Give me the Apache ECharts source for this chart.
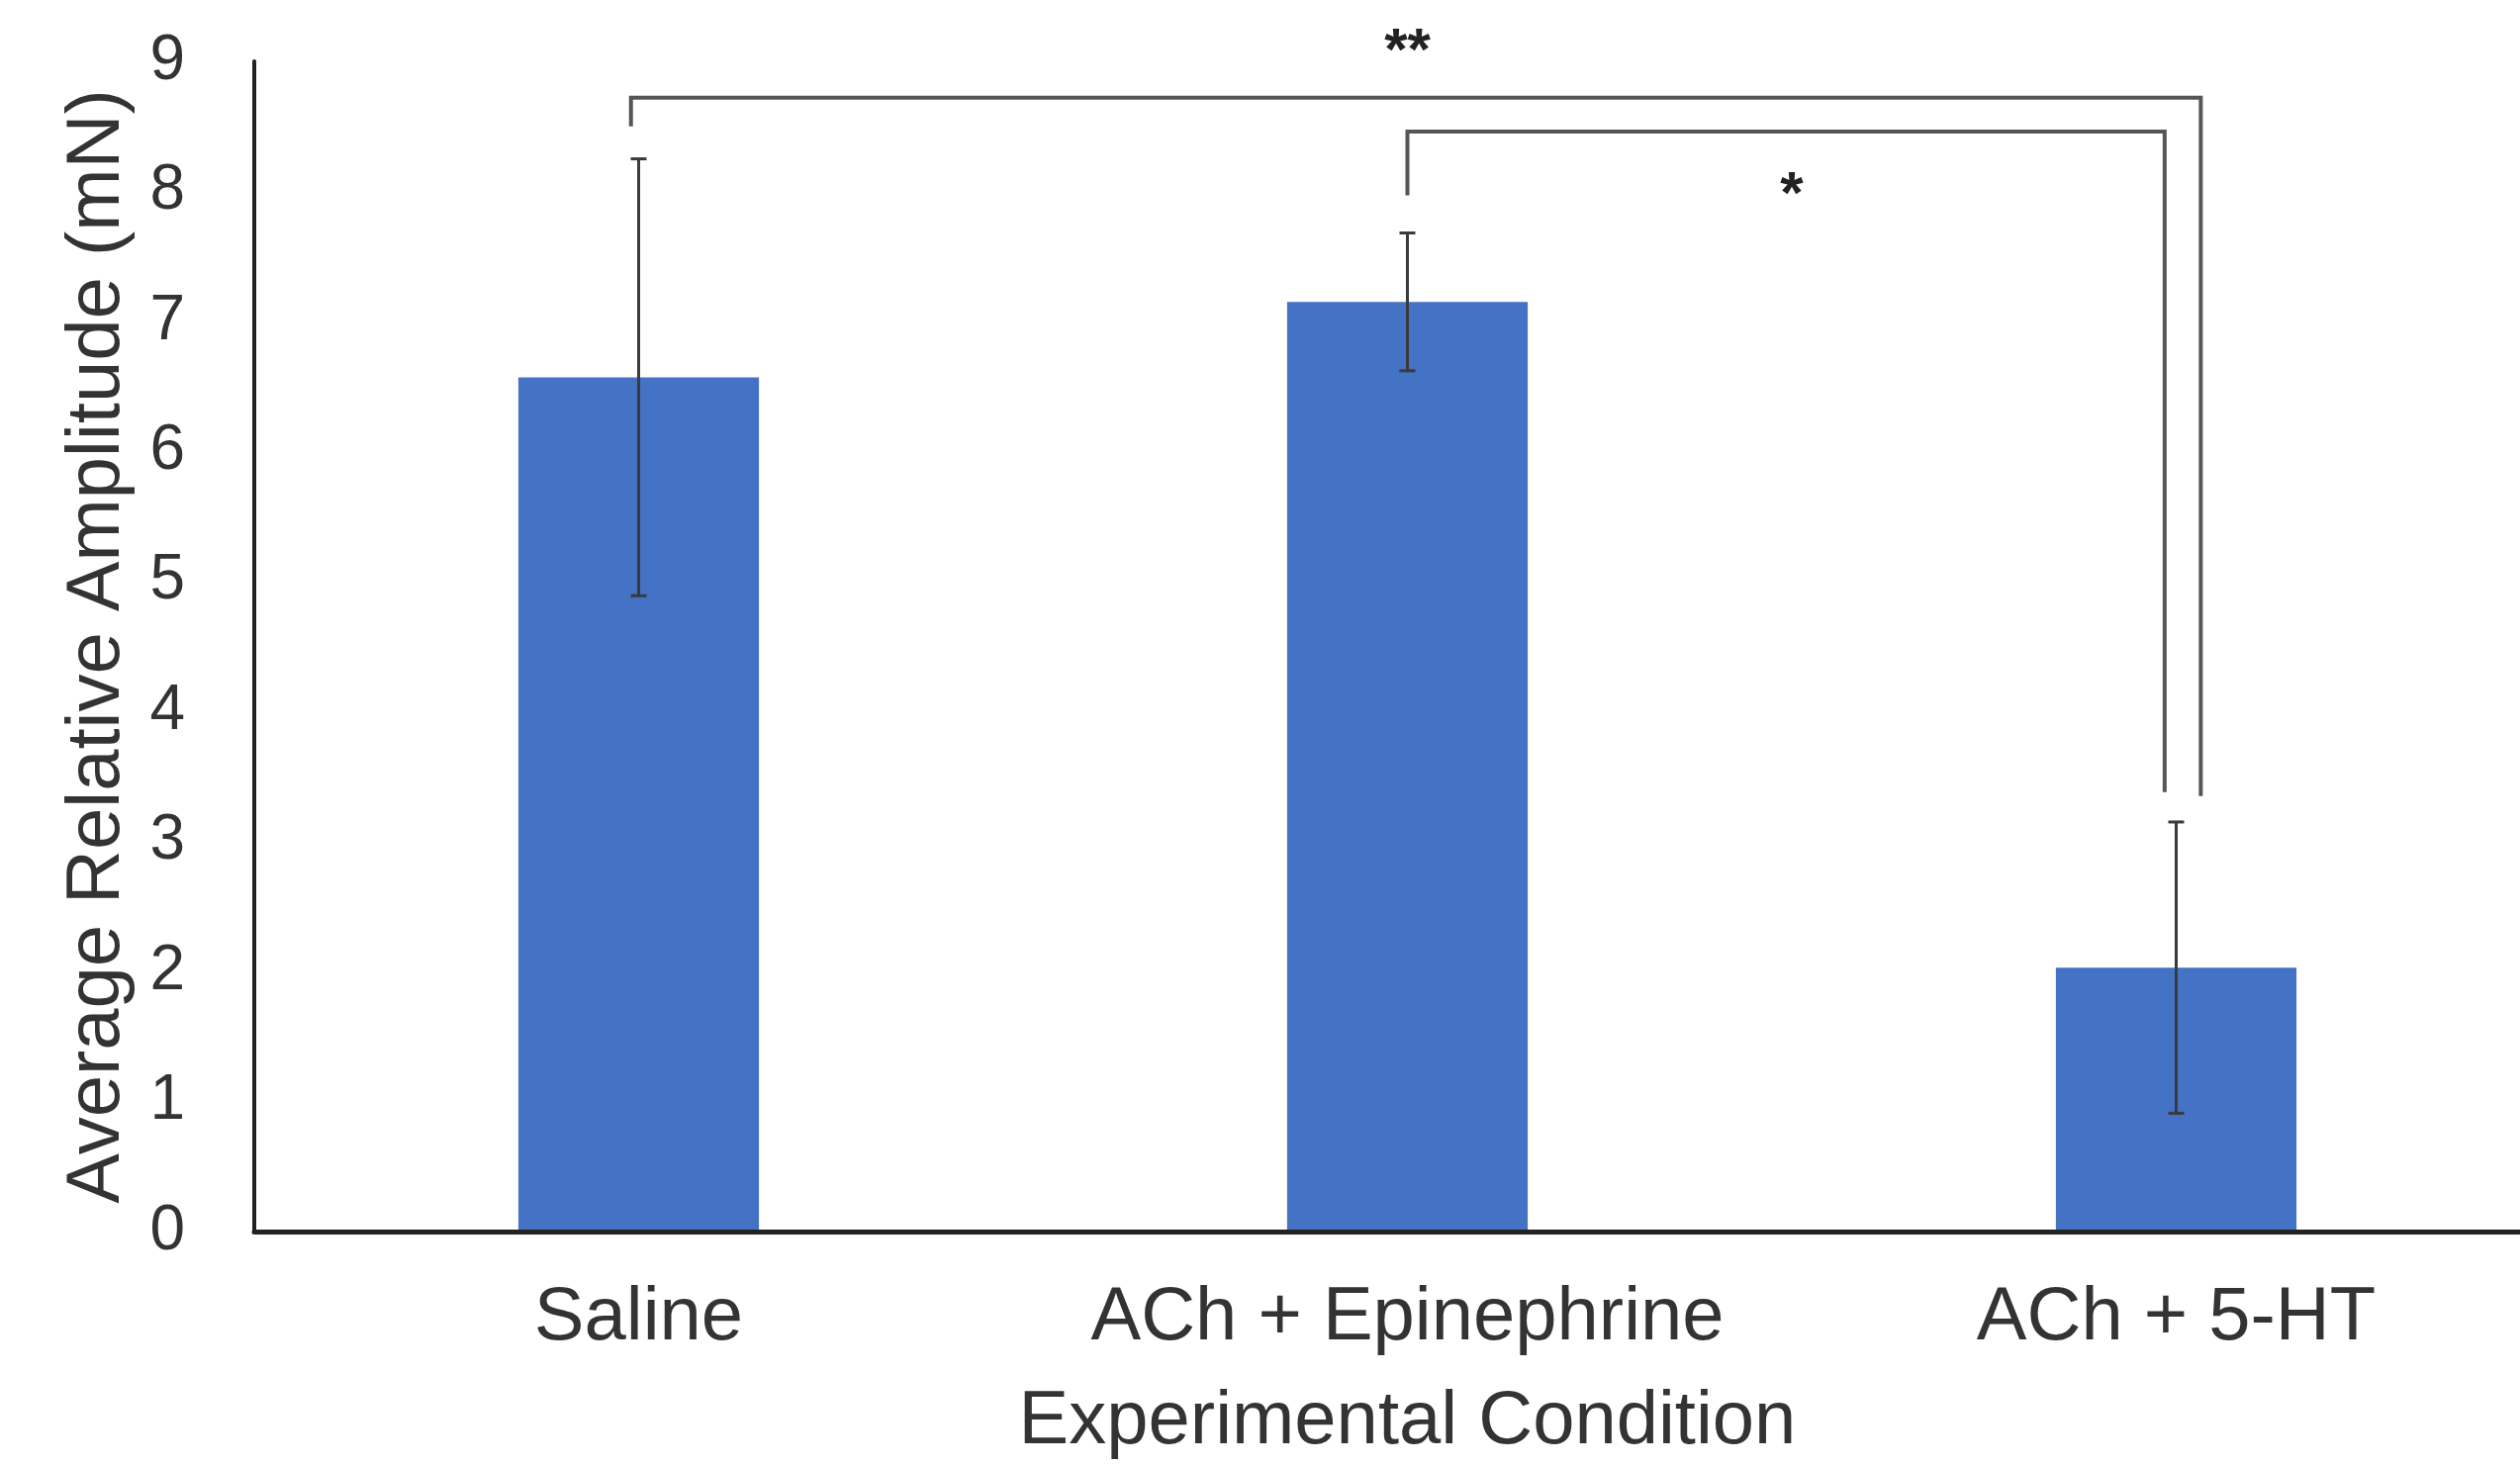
<!DOCTYPE html>
<html><head><meta charset="utf-8">
<script src="https://cdn.jsdelivr.net/npm/echarts@6/dist/echarts.min.js"></script>
<style>html,body{margin:0;padding:0;background:#fff}#c{width:2547px;height:1482px}</style>
</head><body><div id="c"></div>
<script>
// ---- data ----
const categories = ['Saline', 'ACh + Epinephrine', 'ACh + 5-HT'];
const means = [6.57, 7.15, 2.03];
const errors = [1.68, 0.53, 1.12];
const yMin = 0, yMax = 9, yStep = 1;
// significance brackets: [x start, x end, top y, left leg end y, right leg end y]
const bracketLong = [-0.01, 2.032, 8.72, 8.50, 3.35];
const bracketShort = [1.0, 1.985, 8.46, 7.97, 3.38];
// significance marks: [x, y]
const starPositions = [[1.0, 9.16], [1.5, 8.05]];
const starTexts = ['**', '*'];
const xTitle = 'Experimental Condition';
const yTitle = 'Average Relative Amplitude (mN)';

// ---- chart ----
const FONT = "'Liberation Sans', Arial, sans-serif";
const TXT = '#333333';
const errData = means.map((m, i) => [i, m - errors[i], m + errors[i]]);

const chart = echarts.init(document.getElementById('c'), null, {renderer: 'canvas'});
chart.setOption({
  backgroundColor: '#ffffff',
  animation: false,
  grid: {left: 257, top: 62, width: 2331, height: 1183, containLabel: false, outerBoundsMode: 'none'},
  xAxis: [{
    type: 'category', data: categories, z: 5,
    axisLine: {show: true, lineStyle: {color: '#222', width: 5}},
    axisTick: {show: false},
    axisLabel: {fontSize: 76, color: TXT, fontFamily: FONT, margin: 50, interval: 0},
    name: xTitle, nameLocation: 'middle', nameGap: 155,
    nameTextStyle: {fontSize: 76, color: TXT, fontFamily: FONT}
  }, {
    type: 'value', min: -0.5, max: 2.5, show: false
  }],
  yAxis: {
    type: 'value', min: yMin, max: yMax, interval: yStep,
    axisLine: {show: true, onZero: false, lineStyle: {color: '#222', width: 4}},
    axisTick: {show: false},
    splitLine: {show: false},
    axisLabel: {fontSize: 64, color: TXT, fontFamily: FONT, margin: 70},
    name: yTitle, nameLocation: 'middle', nameGap: 120,
    nameTextStyle: {fontSize: 76, color: TXT, fontFamily: FONT}
  },
  series: [{
    type: 'bar', data: means, barWidth: '31.3%',
    itemStyle: {color: '#4472C4'}
  }, {
    type: 'custom', xAxisIndex: 1, data: errData, z: 4,
    renderItem(params, api) {
      const x = api.value(0);
      const pLo = api.coord([x, api.value(1)]);
      const pHi = api.coord([x, api.value(2)]);
      const w = 8, st = {stroke: '#3a3a3a', lineWidth: 3};
      return {type: 'group', children: [
        {type: 'line', shape: {x1: pHi[0], y1: pHi[1], x2: pLo[0], y2: pLo[1]}, style: st},
        {type: 'line', shape: {x1: pHi[0] - w, y1: pHi[1], x2: pHi[0] + w, y2: pHi[1]}, style: st},
        {type: 'line', shape: {x1: pLo[0] - w, y1: pLo[1], x2: pLo[0] + w, y2: pLo[1]}, style: st}
      ]};
    }
  }, {
    type: 'custom', xAxisIndex: 1, data: [bracketLong, bracketShort], z: 4,
    renderItem(params, api) {
      const x1 = api.value(0), x2 = api.value(1), top = api.value(2);
      const pts = [api.coord([x1, api.value(3)]), api.coord([x1, top]),
                   api.coord([x2, top]), api.coord([x2, api.value(4)])];
      return {type: 'polyline', shape: {points: pts},
              style: {stroke: '#555', lineWidth: 4, fill: null}};
    }
  }, {
    type: 'custom', xAxisIndex: 1, data: starPositions, z: 4,
    renderItem(params, api) {
      const p = api.coord([api.value(0), api.value(1)]);
      return {type: 'text', x: p[0], y: p[1] + 12,
              style: {text: starTexts[params.dataIndex], fill: '#222',
                      font: 'bold 60px ' + FONT, align: 'center', verticalAlign: 'middle'}};
    }
  }]
});
</script>
</body></html>
